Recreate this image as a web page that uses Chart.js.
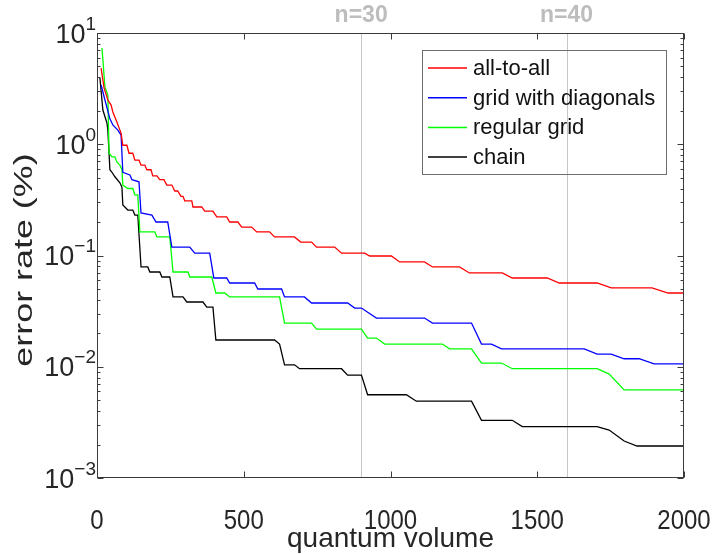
<!DOCTYPE html>
<html>
<head>
<meta charset="utf-8">
<script src="https://cdn.jsdelivr.net/npm/chart.js@4.4.1/dist/chart.umd.min.js"></script>
<style>
html,body{margin:0;padding:0;background:#fff;}
canvas{display:block;}
</style>
</head>
<body>
<canvas id="c" width="714" height="554"></canvas>
<script>
// ---- data (quantum volume, error rate %) ----
const seriesNames = ['all-to-all', 'grid with diagonals', 'regular grid', 'chain'];
const seriesColors = ['#ff0000', '#0000ff', '#00ff00', '#000000'];

const allToAll = [[14,4.84],[24,3.21],[37,2.5],[48,2.25],[54,1.95],[65,1.65],[82,1.26],[88,0.98],[102,0.98],[109,0.83],[122,0.83],[129,0.72],[143,0.72],[150,0.65],[163,0.65],[170,0.59],[184,0.59],[190,0.52],[204,0.52],[214,0.48],[228,0.48],[238,0.43],[255,0.43],[265,0.38],[275,0.38],[286,0.34],[293,0.34],[299,0.31],[323,0.31],[327,0.273],[357,0.273],[367,0.251],[395,0.251],[408,0.222],[442,0.222],[452,0.2],[480,0.2],[493,0.18],[527,0.18],[544,0.163],[588,0.163],[605,0.147],[673,0.147],[694,0.132],[731,0.132],[748,0.119],[810,0.119],[833,0.105],[912,0.105],[929,0.099],[1003,0.099],[1031,0.0875],[1116,0.0875],[1143,0.0789],[1235,0.0789],[1269,0.0697],[1381,0.0697],[1415,0.0628],[1534,0.0628],[1575,0.0566],[1704,0.0566],[1752,0.0511],[1891,0.0511],[1946,0.046],[2000,0.046]];

const gridDiag = [[14,3.41],[27,2.5],[44,1.69],[54,1.49],[71,1.34],[82,1.21],[88,0.56],[112,0.53],[119,0.48],[143,0.46],[150,0.241],[187,0.231],[201,0.2],[241,0.2],[255,0.119],[316,0.119],[333,0.105],[384,0.105],[398,0.0628],[442,0.0628],[452,0.0566],[537,0.0566],[548,0.05],[629,0.05],[639,0.0424],[707,0.0424],[731,0.0374],[854,0.0374],[878,0.0337],[901,0.0337],[952,0.0274],[1116,0.0274],[1143,0.0247],[1276,0.0247],[1310,0.016],[1344,0.016],[1378,0.0145],[1660,0.0145],[1704,0.013],[1752,0.013],[1796,0.0118],[1847,0.0118],[1898,0.0106],[2000,0.0106]];

const regularGrid = [[17,7.33],[27,3.27],[37,2.77],[41,0.83],[51,0.77],[61,0.77],[68,0.69],[78,0.65],[85,0.59],[88,0.43],[105,0.40],[122,0.40],[129,0.35],[139,0.35],[146,0.163],[197,0.163],[204,0.147],[248,0.147],[259,0.0711],[310,0.0711],[316,0.0641],[391,0.0641],[405,0.046],[435,0.046],[452,0.0424],[622,0.0424],[639,0.0247],[731,0.0247],[748,0.0218],[901,0.0218],[922,0.0181],[952,0.0181],[980,0.016],[1177,0.016],[1201,0.0145],[1276,0.0145],[1310,0.0108],[1378,0.0108],[1415,0.0096],[1704,0.0096],[1745,0.0086],[1796,0.0062],[2000,0.0062]];

const chain = [[10,3.94],[20,2.03],[34,1.55],[37,1.34],[44,0.59],[51,0.56],[61,0.51],[78,0.45],[85,0.41],[88,0.284],[105,0.256],[122,0.256],[129,0.231],[139,0.231],[150,0.0789],[173,0.0789],[180,0.0711],[214,0.0711],[221,0.0641],[248,0.0641],[259,0.0424],[293,0.0424],[306,0.0382],[361,0.0382],[374,0.0344],[395,0.0344],[405,0.0174],[605,0.0174],[622,0.016],[639,0.0104],[673,0.0104],[690,0.0096],[833,0.0096],[854,0.0084],[901,0.0084],[922,0.0056],[1054,0.0056],[1088,0.0049],[1276,0.0049],[1310,0.0033],[1415,0.0033],[1449,0.0029],[1704,0.0029],[1745,0.0027],[1796,0.00215],[1840,0.00194],[2000,0.00194]];

const xTicks = [0, 500, 1000, 1500, 2000];
const yExponents = [1, 0, -1, -2, -3];
const refLines = [900, 1600];
const refLabels = ['n=30', 'n=40'];
const xTitle = 'quantum volume';
const yTitle = 'error rate (%)';

// ---- drawing helpers ----
function txt(ctx, s, x, y, font, color, align, base, sx, sy) {
  ctx.save();
  ctx.translate(x, y);
  ctx.scale(sx || 1, sy || 1);
  ctx.font = font;
  ctx.fillStyle = color;
  ctx.textAlign = align;
  ctx.textBaseline = base;
  ctx.fillText(s, 0, 0);
  ctx.restore();
}
const FONT = '"Liberation Sans", Arial, sans-serif';

const decor = {
  id: 'decor',
  beforeDatasetsDraw(chart) {
    const {ctx, chartArea: a, scales: {x}} = chart;
    ctx.save();
    ctx.strokeStyle = '#c6c6c6';
    ctx.lineWidth = 1;
    refLines.forEach(v => {
      const px = Math.round(x.getPixelForValue(v)) + 0.5;
      ctx.beginPath(); ctx.moveTo(px, a.top); ctx.lineTo(px, a.bottom); ctx.stroke();
    });
    ctx.restore();
  },
  afterDraw(chart) {
    const {ctx, chartArea: a, scales: {x, y}} = chart;
    const L = Math.round(a.left) + 0.5, R = Math.round(a.right) - 0.5;
    const T = Math.round(a.top) + 0.5, B = Math.round(a.bottom) - 0.5;
    ctx.save();
    ctx.strokeStyle = '#3a3a3a';
    ctx.lineWidth = 1;
    ctx.strokeRect(L, T, R - L, B - T);
    ctx.beginPath();
    xTicks.forEach(v => {
      const px = Math.round(x.getPixelForValue(v)) + 0.5;
      ctx.moveTo(px, B); ctx.lineTo(px, B - 6);
      ctx.moveTo(px, T); ctx.lineTo(px, T + 6);
    });
    yExponents.forEach(e => {
      for (let m = 1; m <= 9; m++) {
        const v = m * Math.pow(10, e);
        if (v > 10.0001) continue;
        const py = Math.round(y.getPixelForValue(v)) + 0.5;
        const len = m === 1 ? 6 : 3;
        ctx.moveTo(L, py); ctx.lineTo(L + len, py);
        ctx.moveTo(R, py); ctx.lineTo(R - len, py);
      }
    });
    ctx.stroke();
    ctx.restore();

    // x tick labels
    xTicks.forEach(v => {
      const px = x.getPixelForValue(v);
      txt(ctx, String(v), px, 529, '24px ' + FONT, '#262626', 'center', 'alphabetic', 1, 1.15);
    });
    // y tick labels 10^e
    yExponents.forEach(e => {
      const py = y.getPixelForValue(Math.pow(10, e));
      const expStr = e < 0 ? '\u2212' + Math.abs(e) : String(e);
      ctx.save();
      ctx.font = '27px ' + FONT;
      const w10 = ctx.measureText('10').width;
      ctx.font = '19px ' + FONT;
      const wE = ctx.measureText(expStr).width;
      ctx.restore();
      const left = 96 - (w10 + wE);
      txt(ctx, '10', left, py + 9.5, '27px ' + FONT, '#262626', 'left', 'alphabetic');
      txt(ctx, expStr, left + w10, py - 3.5, '19px ' + FONT, '#262626', 'left', 'alphabetic');
    });
    // axis titles
    txt(ctx, xTitle, (a.left + a.right) / 2, 547, '28px ' + FONT, '#262626', 'center', 'alphabetic');
    ctx.save();
    ctx.translate(25, 260);
    ctx.rotate(-Math.PI / 2);
    ctx.scale(1.38, 1);
    ctx.font = '26px ' + FONT;
    ctx.fillStyle = '#262626';
    ctx.textAlign = 'center';
    ctx.textBaseline = 'middle';
    ctx.fillText(yTitle, 0, 0);
    ctx.restore();
    // reference line labels
    refLines.forEach((v, i) => {
      txt(ctx, refLabels[i], x.getPixelForValue(v), 22, 'bold 23px ' + FONT, '#bdbdbd', 'center', 'alphabetic');
    });
    // legend
    ctx.save();
    ctx.strokeStyle = '#6e6e6e';
    ctx.lineWidth = 1;
    ctx.strokeRect(422.5, 50.5, 244, 124);
    seriesNames.forEach((n, i) => {
      const yy = 68 + i * 29.7;
      ctx.strokeStyle = seriesColors[i];
      ctx.lineWidth = 1.5;
      ctx.beginPath(); ctx.moveTo(428, yy); ctx.lineTo(467, yy); ctx.stroke();
      txt(ctx, n, 473, yy + 1, '22px ' + FONT, '#111', 'left', 'middle');
    });
    ctx.restore();
  }
};

const toPts = arr => arr.map(p => ({x: p[0], y: p[1]}));
const seriesData = [allToAll, gridDiag, regularGrid, chain];

new Chart(document.getElementById('c'), {
  type: 'line',
  data: {
    datasets: seriesData.map((d, i) => ({
      label: seriesNames[i],
      data: toPts(d),
      borderColor: seriesColors[i],
      borderWidth: 1.3,
      pointRadius: 0,
      tension: 0,
      fill: false
    }))
  },
  options: {
    responsive: false,
    animation: false,
    devicePixelRatio: 1,
    layout: {padding: {top: 33, right: 30, left: 0, bottom: 0}},
    plugins: {legend: {display: false}, tooltip: {enabled: false}},
    scales: {
      x: {type: 'linear', min: 0, max: 2000,
          ticks: {display: false}, grid: {display: false}, border: {display: false},
          afterFit(s) { s.height = 76; }},
      y: {type: 'logarithmic', min: 0.001, max: 10,
          ticks: {display: false}, grid: {display: false}, border: {display: false},
          afterFit(s) { s.width = 97; }}
    }
  },
  plugins: [decor]
});
</script>
</body>
</html>
